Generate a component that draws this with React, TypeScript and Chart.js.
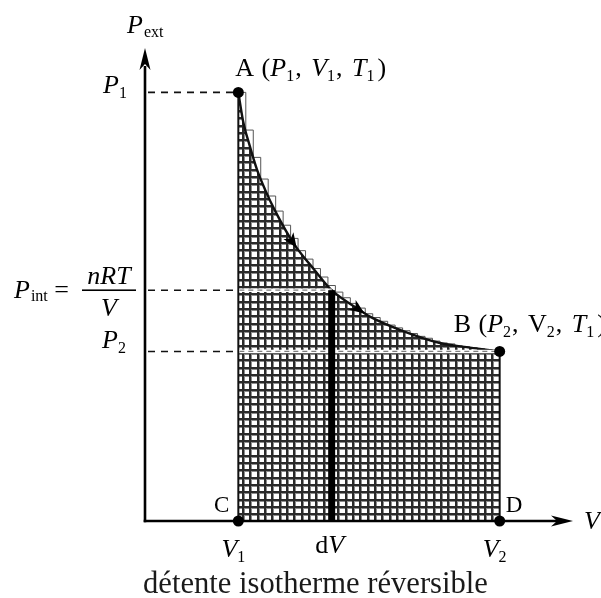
import React, { useEffect, useRef } from "react";
import { Chart, registerables } from "chart.js";

Chart.register(...registerables);

// Isotherm P = nRT/V sampled from state A to state B (V, P in arbitrary units)
const curveV = [1.0, 1.05, 1.12, 1.2, 1.29, 1.39, 1.59, 1.82, 2.0, 2.3, 2.41, 2.73, 3.16, 3.48, 3.8];
const curveP = [4.55, 4.25, 3.99, 3.73, 3.51, 3.3, 2.95, 2.66, 2.45, 2.24, 2.17, 2.03, 1.89, 1.84, 1.8];

// Elementary steps dV (upper staircase under the isotherm)
const stepV = [
  1.0, 1.08, 1.16, 1.24, 1.32, 1.4, 1.48, 1.56, 1.64, 1.72, 1.8, 1.88,
  1.96, 2.04, 2.12, 2.2, 2.28, 2.36, 2.44, 2.52, 2.6, 2.68, 2.76, 2.84,
  2.92, 3.0, 3.08, 3.16, 3.24, 3.32, 3.4, 3.48, 3.56, 3.64, 3.72, 3.8,
];
const stepP = [
  4.55, 4.15, 3.86, 3.63, 3.45, 3.29, 3.14, 3.0, 2.87, 2.78, 2.68, 2.59,
  2.5, 2.43, 2.37, 2.31, 2.26, 2.2, 2.16, 2.12, 2.08, 2.05, 2.02, 1.99,
  1.96, 1.94, 1.91, 1.89, 1.88, 1.86, 1.85, 1.84, 1.83, 1.82, 1.81, 1.8,
];

// States A, B, C, D
const stateNames = ["A", "B", "C", "D"];
const stateV = [1.0, 3.8, 1.0, 3.8];
const stateP = [4.55, 1.8, 0, 0];

// Slice dV and the pressure at that volume
const dVat = 2.0;
const Pint = 2.45;

// Curve points carrying a direction arrow
const arrowIdx = [6, 9];

const SERIF = '"Liberation Serif", "Times New Roman", serif';

type Seg = { t: string; it?: boolean; size?: number; dy?: number; dx?: number };

function rich(
  ctx: CanvasRenderingContext2D,
  x: number,
  y: number,
  segs: Seg[],
  base = 26,
  align: "left" | "right" | "center" = "left"
) {
  const fontOf = (s: Seg) => `${s.it ? "italic " : ""}${s.size ?? base}px ${SERIF}`;
  let w = 0;
  for (const s of segs) {
    ctx.font = fontOf(s);
    w += ctx.measureText(s.t).width + (s.dx ?? 0);
  }
  let cx = align === "left" ? x : align === "right" ? x - w : x - w / 2;
  ctx.textAlign = "left";
  ctx.textBaseline = "alphabetic";
  for (const s of segs) {
    ctx.font = fontOf(s);
    cx += s.dx ?? 0;
    ctx.fillText(s.t, cx, y + (s.dy ?? 0));
    cx += ctx.measureText(s.t).width;
  }
}

function makeHatch(ctx: CanvasRenderingContext2D): CanvasPattern {
  const c = document.createElement("canvas");
  c.width = 22;
  c.height = 22;
  const g = c.getContext("2d")!;
  g.fillStyle = "#ffffff";
  g.fillRect(0, 0, 22, 22);
  const offs = [0, 7, 15];
  g.fillStyle = "#8c8c8c";
  for (const o of offs) {
    g.fillRect(o + 2, 0, 1, 22);
    g.fillRect(0, o + 2, 22, 1);
  }
  g.fillStyle = "#2a2a2a";
  for (const o of offs) {
    g.fillRect(o, 0, 2, 22);
    g.fillRect(0, o, 22, 2);
  }
  return ctx.createPattern(c, "repeat")!;
}

function arrowHead(
  ctx: CanvasRenderingContext2D,
  tx: number,
  ty: number,
  ang: number,
  len: number,
  half: number,
  notch: number
) {
  const ux = Math.cos(ang), uy = Math.sin(ang);
  const px = -uy, py = ux;
  ctx.beginPath();
  ctx.moveTo(tx, ty);
  ctx.lineTo(tx - len * ux + half * px, ty - len * uy + half * py);
  ctx.lineTo(tx - notch * ux, ty - notch * uy);
  ctx.lineTo(tx - len * ux - half * px, ty - len * uy - half * py);
  ctx.closePath();
  ctx.fill();
}

const diagramPlugin = {
  id: "diagram",
  afterDatasetDraw(chart: any, args: any) {
    if (args.index !== 0) return;
    const ctx: CanvasRenderingContext2D = chart.ctx;
    const xs = chart.scales.x, ys = chart.scales.y;
    const X = (v: number) => xs.getPixelForValue(v);
    const Y = (p: number) => ys.getPixelForValue(p);
    const x0 = X(0), y0 = Y(0);
    const xA = X(stateV[0]), yA = Y(stateP[0]);
    const xB = X(stateV[1]), yB = Y(stateP[1]);
    const xd = X(dVat), yi = Y(Pint);
    const { top, right } = chart.chartArea;
    const seg = (a: number, b: number, c: number, d: number) => {
      ctx.beginPath();
      ctx.moveTo(a, b);
      ctx.lineTo(c, d);
      ctx.stroke();
    };
    ctx.save();
    // borders of the hatched area
    ctx.strokeStyle = "#111";
    ctx.lineWidth = 2;
    seg(xA, yA, xA, y0);
    seg(xB, yB, xB, y0);
    // dashed guides across the hatched area (white band)
    ctx.strokeStyle = "#ffffff";
    ctx.lineWidth = 3.5;
    seg(xA + 1, yi, xd, yi);
    seg(xA + 1, yB, xB - 1, yB);
    ctx.setLineDash([5, 4]);
    ctx.strokeStyle = "#808080";
    ctx.lineWidth = 1.2;
    seg(xA + 1, yi, xd, yi);
    seg(xA + 1, yB, xB - 1, yB);
    // dashed guides from the pressure axis
    ctx.setLineDash([7, 6]);
    ctx.strokeStyle = "#111";
    ctx.lineWidth = 1.6;
    seg(x0 + 3, yA, xA, yA);
    seg(x0 + 3, yi, xA, yi);
    seg(x0 + 3, yB, xA, yB);
    ctx.setLineDash([]);
    // the slice dV
    ctx.fillStyle = "#000";
    ctx.fillRect(xd - 3.5, yi, 7, y0 - yi);
    // axes with arrowheads
    ctx.strokeStyle = "#000";
    ctx.lineWidth = 2.6;
    seg(x0, y0 + 1.3, x0, top + 16);
    seg(x0 - 1.3, y0, right - 6, y0);
    arrowHead(ctx, x0, top - 2, -Math.PI / 2, 22, 5.5, 16);
    arrowHead(ctx, right + 8, y0, 0, 22, 5.5, 16);
    // direction arrows on the isotherm
    const meta = chart.getDatasetMeta(0);
    for (const i of arrowIdx) {
      const p = meta.data[i], a = meta.data[i - 1], b = meta.data[i + 1];
      const ang = Math.atan2(b.y - a.y, b.x - a.x);
      arrowHead(ctx, p.x + 6 * Math.cos(ang), p.y + 6 * Math.sin(ang), ang, 15, 6, 11);
    }
    ctx.restore();
  },
  afterDraw(chart: any) {
    const ctx: CanvasRenderingContext2D = chart.ctx;
    const xs = chart.scales.x, ys = chart.scales.y;
    const X = (v: number) => xs.getPixelForValue(v);
    const Y = (p: number) => ys.getPixelForValue(p);
    const x0 = X(0), y0 = Y(0);
    const xA = X(stateV[0]), yA = Y(stateP[0]);
    const xB = X(stateV[1]), yB = Y(stateP[1]);
    const xd = X(dVat), yi = Y(Pint);
    const { top, right } = chart.chartArea;
    const sub = (t: string): Seg => ({ t, size: 16, dy: 5 });
    ctx.save();
    ctx.fillStyle = "#000";
    // axis titles
    rich(ctx, x0 - 18, top - 17, [{ t: "P", it: true }, { t: "ext", size: 16, dy: 4, dx: 1 }]);
    rich(ctx, right + 19, y0 + 8, [{ t: "V", it: true }]);
    // state labels
    rich(ctx, xA - 3, yA - 16, [
      { t: stateNames[0] }, { t: " (", dx: 1 }, { t: "P", it: true }, sub("1"), { t: ", ", dx: 1 },
      { t: "V", it: true, dx: 3 }, sub("1"), { t: ", ", dx: 1 }, { t: "T", it: true, dx: 3 }, sub("1"), { t: ")", dx: 3 },
    ]);
    rich(ctx, xB - 46, yB - 19, [
      { t: stateNames[1] }, { t: " (", dx: 1 }, { t: "P", it: true }, sub("2"), { t: ", ", dx: 1 },
      { t: "V", dx: 3 }, sub("2"), { t: ", ", dx: 1 }, { t: "T", it: true, dx: 3 }, sub("1"), { t: ")", dx: 3 },
    ]);
    rich(ctx, xA - 9, y0 - 9, [{ t: stateNames[2], size: 23 }], 26, "right");
    rich(ctx, xB + 6, y0 - 9, [{ t: stateNames[3], size: 23 }]);
    // pressure ticks
    rich(ctx, x0 - 18, yA + 1, [{ t: "P", it: true }, sub("1")], 26, "right");
    rich(ctx, x0 - 19, yB - 3, [{ t: "P", it: true }, sub("2")], 26, "right");
    rich(ctx, 14, yi + 8, [{ t: "P", it: true }, { t: "int", size: 16, dy: 3, dx: 1 }, { t: " =", dx: 0 }]);
    rich(ctx, 109, yi - 6, [{ t: "nRT", it: true }], 26, "center");
    ctx.fillRect(82, yi - 0.8, 54, 1.6);
    rich(ctx, 109, yi + 26, [{ t: "V", it: true }], 26, "center");
    // volume ticks
    rich(ctx, xA - 5, y0 + 36, [{ t: "V", it: true }, sub("1")], 26, "center");
    rich(ctx, xd - 2, y0 + 32, [{ t: "d" }, { t: "V", it: true }], 26, "center");
    rich(ctx, xB - 5, y0 + 36, [{ t: "V", it: true }, sub("2")], 26, "center");
    // caption
    ctx.fillStyle = "#1a1a1a";
    rich(ctx, 143, 593, [{ t: "détente isotherme réversible" }], 30.6);
    ctx.restore();
  },
};

export default function App() {
  const ref = useRef<HTMLCanvasElement>(null);
  useEffect(() => {
    const canvas = ref.current!;
    const hatch = makeHatch(canvas.getContext("2d")!);
    const chart = new Chart(canvas, {
      type: "line",
      data: {
        datasets: [
          {
            label: "isotherme",
            data: curveV.map((v, i) => ({ x: v, y: curveP[i] })),
            borderColor: "#111",
            borderWidth: 2.4,
            backgroundColor: hatch,
            fill: "origin",
            pointRadius: 0,
            cubicInterpolationMode: "monotone",
            order: 2,
          },
          {
            label: "paliers",
            data: stepV.map((v, i) => ({ x: v, y: stepP[i] })),
            stepped: true,
            borderColor: "#555",
            borderWidth: 1,
            pointRadius: 0,
            fill: false,
            order: 3,
          },
          {
            label: "états",
            data: stateV.map((v, i) => ({ x: v, y: stateP[i] })),
            showLine: false,
            pointRadius: 5.5,
            pointBackgroundColor: "#000",
            pointBorderWidth: 0,
            clip: false,
            order: 1,
          },
        ],
      },
      options: {
        animation: false,
        responsive: false,
        devicePixelRatio: 1,
        events: [],
        layout: { padding: { left: 145, right: 36, top: 50, bottom: 77 } },
        scales: {
          x: { type: "linear", min: 0, max: 4.5, display: false },
          y: { type: "linear", min: 0, max: 5, display: false },
        },
        plugins: { legend: { display: false }, tooltip: { enabled: false } },
      },
      plugins: [diagramPlugin],
    } as any);
    return () => chart.destroy();
  }, []);
  return (
    <div style={{ position: "fixed", left: 0, top: 0, width: 601, height: 598, background: "#fff" }}>
      <canvas ref={ref} width={601} height={598} style={{ display: "block" }} />
    </div>
  );
}
